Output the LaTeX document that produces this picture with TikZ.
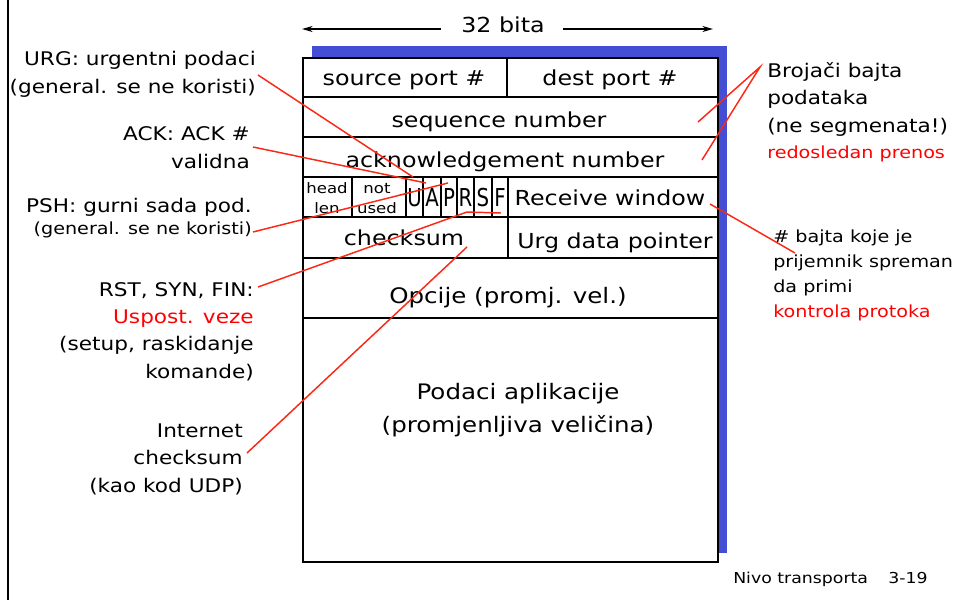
\documentclass[tikz,border=0pt]{standalone}
\usepackage{fontspec}
\setmainfont{DejaVu Sans}[FakeStretch=1.15]
\newfontfamily\narrowfont{DejaVu Sans}[FakeStretch=0.8]
\usetikzlibrary{fit,arrows.meta}

% font sizes
\newcommand\fldfnt{\fontsize{15.5}{18}\selectfont}
\newcommand\lblfnt{\fontsize{14.1}{20.4}\selectfont}
\newcommand\minfnt{\fontsize{12.5}{18.75}\selectfont}
\newcommand\hdrfnt{\fontsize{10.8}{15}\selectfont}
\newcommand\optfnt{\fontsize{16}{24.75}\selectfont}
\newcommand\ftrfnt{\fontsize{11.3}{14}\selectfont}
\newcommand\flagfnt{\narrowfont\fontsize{18.5}{20}\selectfont}

\definecolor{shadowblue}{RGB}{67,78,213}
\definecolor{leader}{RGB}{250,40,20}
\definecolor{notered}{RGB}{255,0,0}

\begin{document}
\begin{tikzpicture}[x=0.75pt,y=-0.75pt,
  field/.style={draw=black, line width=1.3pt, fill=white, inner sep=0pt},
  ftext/.style={font=\fldfnt, inner sep=0pt, anchor=base},
  lbl/.style={font=\lblfnt, inner sep=0pt, align=right, anchor=base east},
  rlbl/.style={inner sep=0pt, align=left, anchor=base west},
  lead/.style={draw=leader, line width=1.1pt},
  dim/.style={line width=0.9pt, -{Stealth[length=8pt,width=4.5pt]}}]

\useasboundingbox (0,0) rectangle (957,600);

% left edge rule
\draw[line width=1.7pt] (8,0) -- (8,600);

% width annotation
\node[font=\fldfnt, inner sep=0pt, anchor=base] (width) at (503,32) {32 bita};
\coordinate (wl) at (302,29);
\coordinate (wr) at (713,29);
\draw[dim] (441,29) -- (wl);
\draw[dim] (563,29) -- (wr);

% drop shadow of the segment
\fill[shadowblue] (312,46) rectangle (727,553);

% segment fields
\node[field, fit={(303,58) (507,97)}] (src) {};
\node[field, fit={(507,58) (718,97)}] (dst) {};
\node[field, fit={(303,97) (718,137)}] (seq) {};
\node[field, fit={(303,137) (718,177)}] (ack) {};
\node[field, fit={(303,177) (352,217)}] (hlen) {};
\node[field, fit={(352,177) (406,217)}] (unused) {};
\node[field, fit={(406,177) (423,217)}] (fU) {};
\node[field, fit={(423,177) (441,217)}] (fA) {};
\node[field, fit={(441,177) (457,217)}] (fP) {};
\node[field, fit={(457,177) (474,217)}] (fR) {};
\node[field, fit={(474,177) (492,217)}] (fS) {};
\node[field, fit={(492,177) (508,217)}] (fF) {};
\node[field, fit={(508,177) (718,217)}] (rwnd) {};
\node[field, fit={(303,217) (508,258)}] (csum) {};
\node[field, fit={(508,217) (718,258)}] (urgp) {};
\node[field, fit={(303,258) (718,318)}] (opts) {};
\node[field, fit={(303,318) (718,562)}] (data) {};

% field texts (multi-line nodes are placed by the baseline of their last line)
\node[ftext] (tsrc) at (404,85) {source port \#};
\node[ftext] (tdst) at (610,85) {dest port \#};
\node[ftext] (tseq) at (499,127) {sequence number};
\node[ftext] (tack) at (505,167) {acknowledgement number};
\node[font=\hdrfnt, inner sep=0pt, anchor=base, align=center] (thlen) at (327,213) {head\\len};
\node[font=\hdrfnt, inner sep=0pt, anchor=base, align=center] (tunused) at (377,213) {not\\used};
\node[font=\flagfnt, inner sep=0pt, anchor=base] (tU) at (414.5,206) {U};
\node[font=\flagfnt, inner sep=0pt, anchor=base] (tA) at (432,206) {A};
\node[font=\flagfnt, inner sep=0pt, anchor=base] (tP) at (449,206) {P};
\node[font=\flagfnt, inner sep=0pt, anchor=base] (tR) at (465.5,206) {R};
\node[font=\flagfnt, inner sep=0pt, anchor=base] (tS) at (483,206) {S};
\node[font=\flagfnt, inner sep=0pt, anchor=base] (tF) at (500,206) {F};
\node[ftext] (trwnd) at (610,205) {Receive window};
\node[ftext] (tcsum) at (404,245) {checksum};
\node[ftext] (turgp) at (615,248) {Urg data pointer};
\node[ftext, font=\optfnt] (topts) at (508,303) {Opcije (promj. vel.)};
\node[font=\optfnt, inner sep=0pt, anchor=base, align=center] (tdata) at (518,432)
  {Podaci aplikacije\\(promjenljiva veličina)};

% left-hand annotations
\node[lbl] (urg) at (256,93) {URG: urgentni podaci\\(general. se ne koristi)};
\node[lbl] (ackl) at (250,168) {ACK: ACK \#\\validna};
\node[lbl] (psh) at (252,234) {PSH: gurni sada pod.\\[-4.5pt]{\minfnt (general. se ne koristi)}};
\node[lbl] (rsf) at (254,378) {RST, SYN, FIN:\\{\color{notered}Uspost. veze}\\(setup, raskidanje\\komande)};
\node[lbl] (inet) at (243,492) {Internet\\checksum\\(kao kod UDP)};

% right-hand annotations
\node[rlbl, font=\lblfnt] (cnt) at (767,158)
  {Brojači bajta\\podataka\\(ne segmenata!)\\[-1pt]{\minfnt\color{notered}redosledan prenos}};
\node[rlbl, font=\minfnt] (win) at (773,317)
  {\# bajta koje je\\prijemnik spreman\\da primi\\{\color{notered}kontrola protoka}};

% footer
\node[font=\ftrfnt, inner sep=0pt, anchor=base west] (chap) at (733,583) {Nivo transporta};
\node[font=\ftrfnt, inner sep=0pt, anchor=base west] (page) at (888,583) {3-19};

% leader lines
\coordinate (urgA) at (258,75);   \coordinate (urgB) at (413,177);
\coordinate (ackA) at (253,147);  \coordinate (ackB) at (426,183);
\coordinate (pshA) at (253,232);  \coordinate (pshB) at (448,183);
\coordinate (rsfA) at (258,287);  \coordinate (rsfB) at (467,212); \coordinate (rsfC) at (501,213);
\coordinate (inetA) at (247,453); \coordinate (inetB) at (467,247);
\coordinate (cntA) at (760,67);   \coordinate (cntB) at (698,122); \coordinate (cntC) at (702,160);
\coordinate (winA) at (710,204);  \coordinate (winB) at (795,253);

\draw[lead] (urgA) -- (urgB);
\draw[lead] (ackA) -- (ackB);
\draw[lead] (pshA) -- (pshB);
\draw[lead] (rsfA) -- (rsfB) -- (rsfC);
\draw[lead] (inetA) -- (inetB);
\draw[lead] (cntB) -- (cntA) -- (cntC);
\draw[lead] (winA) -- (winB);
\end{tikzpicture}
\end{document}
